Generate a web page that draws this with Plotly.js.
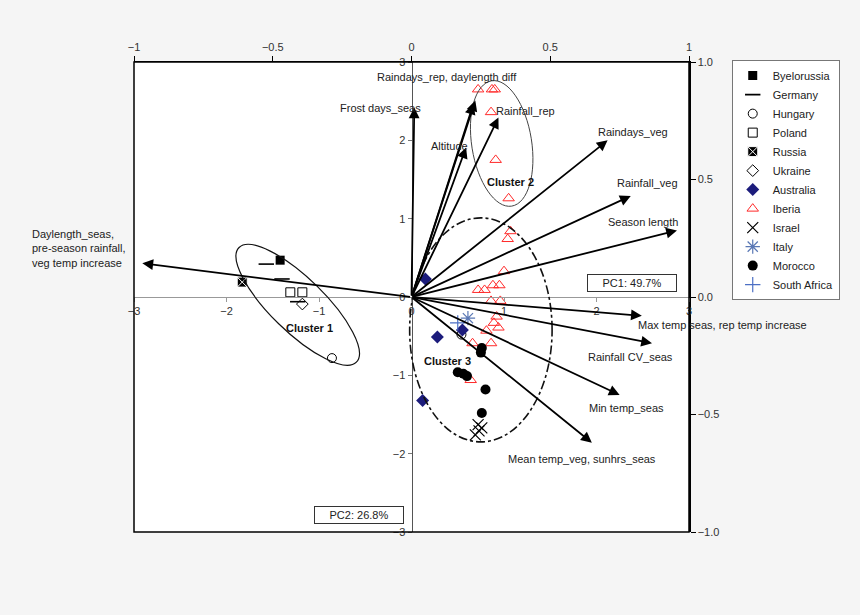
<!DOCTYPE html>
<html>
<head>
<meta charset="utf-8">
<script src="https://cdn.plot.ly/plotly-3.0.1.min.js"></script>
<style>html,body{margin:0;padding:0;background:#f5f5f5;}#chart{width:860px;height:615px;}</style>
</head>
<body>
<div id="chart"></div>
<script>
// ---- Scores (PC1, PC2) ----
var byelorussiaX = [-1.42];
var byelorussiaY = [0.47];
var germanyX = [-1.57, -1.40, -1.23];
var germanyY = [0.42, 0.23, -0.06];
var hungaryX = [-0.86, 0.54];
var hungaryY = [-0.78, -0.48];
var polandX = [-1.31, -1.18];
var polandY = [0.06, 0.06];
var russiaX = [-1.83];
var russiaY = [0.19];
var ukraineX = [-1.18];
var ukraineY = [-0.09];
var australiaX = [0.15, 0.28, 0.55, 0.12];
var australiaY = [0.23, -0.51, -0.42, -1.32];
var iberiaX = [0.72, 0.87, 0.90, 0.86, 0.91, 1.05,
               1.07, 1.04, 1.00, 0.72, 0.79, 0.88, 0.95, 0.86, 0.96, 0.92, 0.89, 0.94, 0.81, 0.66, 0.86, 0.64];
var iberiaY = [2.65, 2.65, 2.65, 2.36, 1.75, 1.26,
               0.84, 0.74, 0.33, 0.09, 0.09, 0.15, 0.15, -0.05, -0.05, -0.25, -0.33, -0.39, -0.43, -0.59, -0.59, -1.06];
var israelX = [0.72, 0.76, 0.73, 0.69];
var israelY = [-1.63, -1.67, -1.71, -1.76];
var italyX = [0.61];
var italyY = [-0.27];
var moroccoX = [0.76, 0.75, 0.50, 0.56, 0.60, 0.80, 0.76];
var moroccoY = [-0.65, -0.71, -0.96, -0.98, -1.01, -1.18, -1.48];
var southAfricaX = [0.50];
var southAfricaY = [-0.33];

// ---- Loading vectors (arrow tips, score scale) ----
var vecNames = ['Daylength', 'Frost days_seas', 'Raindays_rep', 'daylength diff', 'Altitude', 'Rainfall_rep',
                'Raindays_veg', 'Rainfall_veg', 'Season length', 'Max temp seas', 'Rainfall CV_seas',
                'Min temp_seas', 'Mean temp_veg'];
var vecX = [-2.91, 0.03, 0.69, 0.67, 0.59, 0.94, 2.12, 2.37, 2.87, 2.49, 2.60, 2.25, 1.95];
var vecY = [0.43, 2.42, 2.51, 2.47, 1.91, 2.29, 2.00, 1.29, 0.85, -0.24, -0.59, -1.25, -1.86];

// ---- Vector labels ----
var labelTexts = ['Daylength_seas,<br>pre-season rainfall,<br>veg temp increase',
                  'Raindays_rep, daylength diff', 'Frost days_seas', 'Rainfall_rep', 'Altitude',
                  'Raindays_veg', 'Rainfall_veg', 'Season length', 'Max temp seas, rep temp increase',
                  'Rainfall CV_seas', 'Min temp_seas', 'Mean temp_veg, sunhrs_seas'];

// ---- Cluster ellipses: centre and two conjugate half-axes (score scale) ----
var clusterNames = ['Cluster 1', 'Cluster 2', 'Cluster 3'];
var ellCx = [-1.23, 0.975, 0.75];
var ellCy = [-0.10, 1.96, -0.42];
var ellUx = [0.634, 0.108, 0.77];
var ellUy = [-0.732, -0.80, 0.0];
var ellVx = [0.206, 0.32, 0.0];
var ellVy = [0.242, 0.06, 1.43];

var ticks3 = [-3, -2, -1, 0, 1, 2, 3];
var ticks1 = [-1, -0.5, 0, 0.5, 1];

var FONT = 'Liberation Sans, Arial, Helvetica, sans-serif';

function tr(name, x, y, symbol, color, size, lw, lcolor) {
  return {type: 'scatter', mode: 'markers', name: name, x: x, y: y,
    marker: {symbol: symbol, color: color, size: size,
             line: {width: lw, color: lcolor || color}},
    hoverinfo: 'name+x+y'};
}

var data = [
  tr('Byelorussia', byelorussiaX, byelorussiaY, 'square', '#000', 9, 0),
  tr('Germany', germanyX, germanyY, 'line-ew-open', '#000', 11, 1.6),
  tr('Hungary', hungaryX, hungaryY, 'circle-open', '#000', 9, 1),
  tr('Poland', polandX, polandY, 'square-open', '#000', 9, 1),
  tr('Russia', russiaX, russiaY, 'square-x', '#000', 10, 1, '#fff'),
  tr('Ukraine', ukraineX, ukraineY, 'diamond-open', '#000', 9, 1),
  tr('Australia', australiaX, australiaY, 'diamond', '#1c1c7c', 10, 0),
  tr('Iberia', iberiaX, iberiaY, 'triangle-up-open', '#ff2a2a', 10, 1),
  tr('Israel', israelX, israelY, 'x-thin-open', '#000', 11, 1.2),
  tr('Italy', italyX, italyY, 'asterisk-open', '#5a78b5', 12, 1.2),
  tr('Morocco', moroccoX, moroccoY, 'circle', '#000', 10, 0),
  tr('South Africa', southAfricaX, southAfricaY, 'cross-thin-open', '#4c6fc4', 11, 1.2),
  {type: 'scatter', x: [], y: [], xaxis: 'x2', yaxis: 'y2', showlegend: false, hoverinfo: 'skip'}
];

var annotations = [];
for (var i = 0; i < vecX.length; i++) {
  annotations.push({x: vecX[i], y: vecY[i], xref: 'x', yref: 'y', ax: 0, ay: 0, axref: 'x', ayref: 'y',
    text: '', showarrow: true, arrowhead: 2, arrowsize: 1.2, arrowwidth: 1.8, arrowcolor: '#000'});
}
// label positions (paper)
var labelPX = [-0.187, 0.564, 0.445, 0.706, 0.568, 0.899, 0.926, 0.917, 1.061, 0.894, 0.887, 0.807];
var labelPY = [0.604, 0.968, 0.902, 0.896, 0.821, 0.851, 0.743, 0.660, 0.440, 0.372, 0.264, 0.155];
for (var j = 0; j < labelTexts.length; j++) {
  annotations.push({x: labelPX[j], y: labelPY[j], xref: 'paper', yref: 'paper', text: labelTexts[j],
    showarrow: false, xanchor: j === 0 ? 'left' : 'center', yanchor: 'middle', align: 'left',
    font: {family: FONT, size: 11, color: '#222'}});
}
var clusterPX = [0.317, 0.678, 0.564];
var clusterPY = [0.434, 0.745, 0.364];
for (var k = 0; k < clusterNames.length; k++) {
  annotations.push({x: clusterPX[k], y: clusterPY[k], xref: 'paper', yref: 'paper',
    xanchor: 'center', yanchor: 'middle',
    text: '<b>' + clusterNames[k] + '</b>', showarrow: false,
    font: {family: FONT, size: 11, color: '#111'}});
}
annotations.push({x: 0.897, y: 0.529, xref: 'paper', yref: 'paper', xanchor: 'center', yanchor: 'middle',
  text: 'PC1: 49.7%', showarrow: false,
  bordercolor: '#333', borderwidth: 1, borderpad: 2, width: 84, bgcolor: '#fff',
  font: {family: FONT, size: 11, color: '#222'}});
annotations.push({x: 0.405, y: 0.036, xref: 'paper', yref: 'paper', xanchor: 'center', yanchor: 'middle',
  text: 'PC2: 26.8%', showarrow: false,
  bordercolor: '#333', borderwidth: 1, borderpad: 2, width: 84, bgcolor: '#fff',
  font: {family: FONT, size: 11, color: '#222'}});

var K = 0.5523;
function ellPath(i) {
  var cx = ellCx[i], cy = ellCy[i], ux = ellUx[i], uy = ellUy[i], vx = ellVx[i], vy = ellVy[i];
  function p(a, b) { return (cx + a * ux + b * vx) + ',' + (cy + a * uy + b * vy); }
  return 'M' + p(1, 0) +
    ' C' + p(1, K) + ' ' + p(K, 1) + ' ' + p(0, 1) +
    ' C' + p(-K, 1) + ' ' + p(-1, K) + ' ' + p(-1, 0) +
    ' C' + p(-1, -K) + ' ' + p(-K, -1) + ' ' + p(0, -1) +
    ' C' + p(K, -1) + ' ' + p(1, -K) + ' ' + p(1, 0) + ' Z';
}
var shapes = [
  {type: 'path', xref: 'x', yref: 'y', path: ellPath(0), line: {color: '#111', width: 1.2}},
  {type: 'path', xref: 'x', yref: 'y', path: ellPath(1), line: {color: '#444', width: 1}},
  {type: 'path', xref: 'x', yref: 'y', path: ellPath(2), line: {color: '#111', width: 1.6, dash: 'dashdot'}},
  {type: 'rect', xref: 'paper', yref: 'paper', x0: 0, x1: 1, y0: 0, y1: 1, line: {color: '#000', width: 1.5}, layer: 'above'}
];

var layout = {
  width: 860, height: 615,
  margin: {l: 134, r: 171, t: 62, b: 83},
  paper_bgcolor: '#f5f5f5', plot_bgcolor: '#ffffff',
  font: {family: FONT, size: 11, color: '#222'},
  showlegend: true,
  legend: {x: 1.077, y: 1.004, xanchor: 'left', yanchor: 'top', bgcolor: '#fff', bordercolor: '#777',
    borderwidth: 1, font: {family: FONT, size: 11, color: '#222'}, tracegroupgap: 0, itemwidth: 30},
  xaxis: {range: [-3, 3], anchor: 'free', position: 0.5, showline: true, linecolor: '#999', linewidth: 1,
    ticks: 'outside', ticklen: 4, tickcolor: '#999', tickvals: ticks3, showgrid: false, zeroline: false,
    tickfont: {size: 11, color: '#333'}, fixedrange: true},
  yaxis: {range: [-3, 3], anchor: 'free', position: 0.5, showline: true, linecolor: '#555', linewidth: 1,
    ticks: 'outside', ticklen: 4, tickcolor: '#777', tickvals: ticks3, showgrid: false, zeroline: false,
    tickfont: {size: 11, color: '#333'}, fixedrange: true},
  xaxis2: {range: [-1, 1], overlaying: 'x', side: 'top', anchor: 'y2', showline: true, linecolor: '#000',
    linewidth: 1.5, ticks: 'outside', ticklen: 5, tickcolor: '#000', tickvals: ticks1, showgrid: false,
    zeroline: false, tickfont: {size: 11, color: '#333'}, fixedrange: true},
  yaxis2: {range: [-1, 1], overlaying: 'y', side: 'right', anchor: 'x2', showline: true, linecolor: '#000',
    linewidth: 1.5, ticks: 'outside', ticklen: 5, tickcolor: '#000', tickvals: ticks1, tickformat: '.1f',
    showgrid: false, zeroline: false, tickfont: {size: 11, color: '#333'}, fixedrange: true},
  annotations: annotations,
  shapes: shapes
};

Plotly.newPlot('chart', data, layout, {displayModeBar: false, staticPlot: true});
</script>
</body>
</html>
